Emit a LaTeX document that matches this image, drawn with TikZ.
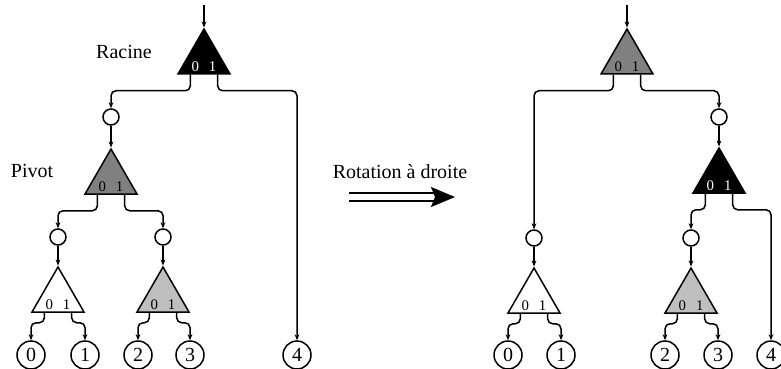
\documentclass[tikz,border=0pt]{standalone}
\usepackage{fontspec}
\setmainfont{Liberation Serif}
\usetikzlibrary{arrows.meta, calc, shapes.geometric}

\begin{document}
\begin{tikzpicture}[
    x=0.5pt, y=-0.5pt,
    tri/.style 2 args={regular polygon, regular polygon sides=3, draw,
        line width=0.75pt, inner sep=0pt, minimum size=30pt, fill=#1,
        label={[bits, text=#2, yshift=-3.8pt]center:{0\hspace{5pt}1}}},
    bits/.style={font=\fontsize{7.4}{8}\selectfont, inner sep=0pt},
    joint/.style={circle, draw, line width=0.75pt, inner sep=0pt, minimum size=8pt},
    leaf/.style={circle, draw, line width=0.75pt, inner sep=0pt, minimum size=14pt,
        font=\fontsize{10}{12}\selectfont},
    conn/.style={-{Stealth[length=3pt,width=2.4pt]}, line width=0.75pt,
        rounded corners=2.5pt},
    lbl/.style={font=\fontsize{10}{12}\selectfont},
]
\useasboundingbox (0,0) rectangle (781,369);

% --- levels (y of node centres) ---
\def\yTop{59}     % upper triangles
\def\yJa{117}     % first joints
\def\yMid{179}    % middle triangles
\def\yJb{237}     % lower joints
\def\yLow{297}    % lower triangles
\def\yLeaf{355}   % leaves

% ===== before the rotation =====
\coordinate (inL) at (204,5);
\node[tri={black}{white}]     (racine) at (204,\yTop) {};
\node[joint]                  (jP)     at (111,\yJa)  {};
\node[tri={black!50}{black}]  (pivot)  at (111,\yMid) {};
\node[joint]                  (jA)     at (58,\yJb)   {};
\node[joint]                  (jB)     at (163,\yJb)  {};
\node[tri={white}{black}]     (sa)     at (58,\yLow)  {};
\node[tri={black!25}{black}]  (sb)     at (163,\yLow) {};
\node[leaf] (f0) at (31,\yLeaf)  {0};
\node[leaf] (f1) at (85,\yLeaf)  {1};
\node[leaf] (f2) at (138,\yLeaf) {2};
\node[leaf] (f3) at (190,\yLeaf) {3};
\node[leaf] (f4) at (297,\yLeaf) {4};

\node[lbl] (tRacine) at (124,52)  {Racine};
\node[lbl] (tPivot)  at (32,171)  {Pivot};

\draw[conn] (inL) -- (racine.corner 1);
\draw[conn] ($(racine.corner 2)!.25!(racine.corner 3)$) -- ++(0,16) -| (jP.north);
\draw[conn] ($(racine.corner 2)!.75!(racine.corner 3)$) -- ++(0,16) -| (f4.north);
\draw[conn] (jP.south) -- (pivot.corner 1);
\draw[conn] ($(pivot.corner 2)!.25!(pivot.corner 3)$) -- ++(0,16) -| (jA.north);
\draw[conn] ($(pivot.corner 2)!.75!(pivot.corner 3)$) -- ++(0,16) -| (jB.north);
\draw[conn] (jA.south) -- (sa.corner 1);
\draw[conn] (jB.south) -- (sb.corner 1);
\draw[conn] ($(sa.corner 2)!.25!(sa.corner 3)$) -- ++(0,10) -| (f0.north);
\draw[conn] ($(sa.corner 2)!.75!(sa.corner 3)$) -- ++(0,10) -| (f1.north);
\draw[conn] ($(sb.corner 2)!.25!(sb.corner 3)$) -- ++(0,10) -| (f2.north);
\draw[conn] ($(sb.corner 2)!.75!(sb.corner 3)$) -- ++(0,10) -| (f3.north);

% ===== the rotation =====
\node[lbl] (tRot) at (400,172) {Rotation à droite};
\coordinate (rotA) at (349,197);
\coordinate (rotB) at (455,197);
\draw[line width=0.75pt, double, double distance=3.2pt,
      -{Stealth[length=12pt,width=10pt,inset=2pt]}] (rotA) -- (rotB);

% ===== after the rotation =====
\coordinate (inR) at (627,5);
\node[tri={black!50}{black}]  (pivotR)  at (627,\yTop) {};
\node[joint]                  (jR)      at (719,\yJa)  {};
\node[tri={black}{white}]     (racineR) at (719,178)   {};
\node[joint]                  (jAR)     at (534,238)   {};
\node[joint]                  (jBR)     at (691,238)   {};
\node[tri={white}{black}]     (saR)     at (534,298)   {};
\node[tri={black!25}{black}]  (sbR)     at (691,298)   {};
\node[leaf] (g0) at (508,\yLeaf) {0};
\node[leaf] (g1) at (561,\yLeaf) {1};
\node[leaf] (g2) at (665,\yLeaf) {2};
\node[leaf] (g3) at (718,\yLeaf) {3};
\node[leaf] (g4) at (771,\yLeaf) {4};

\draw[conn] (inR) -- (pivotR.corner 1);
\draw[conn] ($(pivotR.corner 2)!.25!(pivotR.corner 3)$) -- ++(0,16) -| (jAR.north);
\draw[conn] ($(pivotR.corner 2)!.75!(pivotR.corner 3)$) -- ++(0,16) -| (jR.north);
\draw[conn] (jR.south) -- (racineR.corner 1);
\draw[conn] ($(racineR.corner 2)!.25!(racineR.corner 3)$) -- ++(0,16) -| (jBR.north);
\draw[conn] ($(racineR.corner 2)!.75!(racineR.corner 3)$) -- ++(0,16) -| (g4.north);
\draw[conn] (jAR.south) -- (saR.corner 1);
\draw[conn] (jBR.south) -- (sbR.corner 1);
\draw[conn] ($(saR.corner 2)!.25!(saR.corner 3)$) -- ++(0,10) -| (g0.north);
\draw[conn] ($(saR.corner 2)!.75!(saR.corner 3)$) -- ++(0,10) -| (g1.north);
\draw[conn] ($(sbR.corner 2)!.25!(sbR.corner 3)$) -- ++(0,10) -| (g2.north);
\draw[conn] ($(sbR.corner 2)!.75!(sbR.corner 3)$) -- ++(0,10) -| (g3.north);
\end{tikzpicture}
\end{document}
